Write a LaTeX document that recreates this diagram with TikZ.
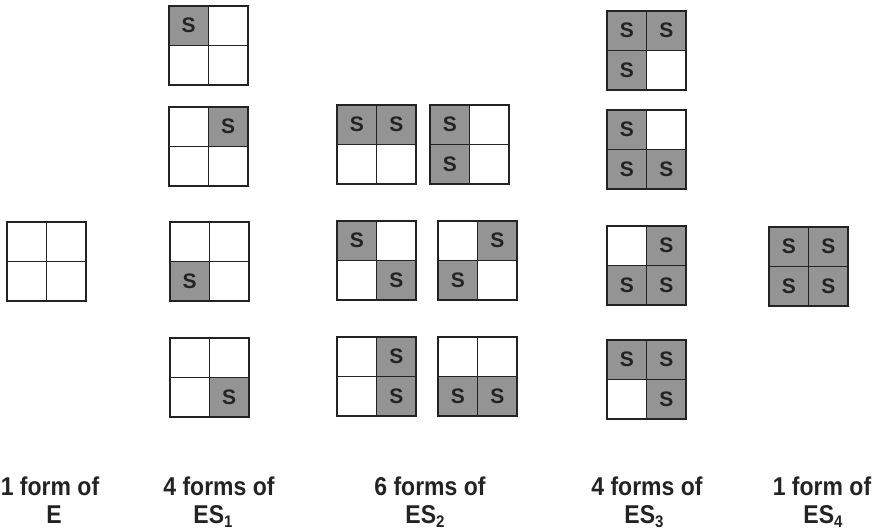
\documentclass[tikz,border=0pt]{standalone}
\usepackage{fontspec}
\setmainfont{Liberation Sans}
\definecolor{cellgray}{RGB}{148,148,148}
\definecolor{inkc}{RGB}{35,35,35}
\newcommand\sub[1]{\raisebox{-0.35ex}{\fontsize{15}{15}\selectfont #1}}
\newcommand\cellnode[4]{%
  \ifnum#4=1
    \node[fullcell] (#1) at (#2,#3) {S};
  \else
    \node[emptycell] (#1) at (#2,#3) {};
  \fi}
\newcommand\sgrid[7]{%
  \cellnode{#1tl}{{#2+19.75}}{{#3+19.75}}{#4}
  \cellnode{#1tr}{{#2+59.25}}{{#3+19.75}}{#5}
  \cellnode{#1bl}{{#2+19.75}}{{#3+59.25}}{#6}
  \cellnode{#1br}{{#2+59.25}}{{#3+59.25}}{#7}
  \draw[gridline] (#1tl.north west) rectangle (#1br.south east);}
\begin{document}
\begin{tikzpicture}[x=1pt,y=-1pt,
  basecell/.style={rectangle, minimum size=39.5pt, inner sep=0pt, outer sep=0pt,
    draw=inkc, line width=1.4pt, font=\fontsize{21}{21}\selectfont\bfseries, text=inkc},
  fullcell/.style={basecell, fill=cellgray},
  emptycell/.style={basecell, fill=white},
  gridline/.style={draw=inkc, line width=1.6pt},
  lab/.style={anchor=base, inner sep=0pt, text=inkc, yscale=1.12,
    font=\fontsize{23}{23}\selectfont\bfseries}]
\useasboundingbox (0,0) rectangle (878,530);
% E
\sgrid{e}{7}{222}{0}{0}{0}{0}
% ES1
\sgrid{sa}{169}{6}{1}{0}{0}{0}
\sgrid{sb}{169}{107}{0}{1}{0}{0}
\sgrid{sc}{170}{222}{0}{0}{1}{0}
\sgrid{sd}{170}{338}{0}{0}{0}{1}
% ES2
\sgrid{ta}{337}{105}{1}{1}{0}{0}
\sgrid{tb}{430}{105}{1}{0}{1}{0}
\sgrid{tc}{337}{221}{1}{0}{0}{1}
\sgrid{td}{438}{221}{0}{1}{1}{0}
\sgrid{te}{337}{337}{0}{1}{0}{1}
\sgrid{tf}{438}{337}{0}{0}{1}{1}
% ES3
\sgrid{ua}{607}{11}{1}{1}{1}{0}
\sgrid{ub}{607}{110}{1}{0}{1}{1}
\sgrid{uc}{607}{226}{0}{1}{1}{1}
\sgrid{ud}{607}{340}{1}{1}{0}{1}
% ES4
\sgrid{va}{769}{227}{1}{1}{1}{1}
% labels
\node[lab] (l1a) at (50,495) {1 form of};
\node[lab] (l1b) at (54,523) {E};
\node[lab] (l2a) at (219,495) {4 forms of};
\node[lab] (l2b) at (213,523) {ES\sub{1}};
\node[lab] (l3a) at (430,495) {6 forms of};
\node[lab] (l3b) at (425,523) {ES\sub{2}};
\node[lab] (l4a) at (647,495) {4 forms of};
\node[lab] (l4b) at (644,523) {ES\sub{3}};
\node[lab] (l5a) at (822,495) {1 form of};
\node[lab] (l5b) at (823,523) {ES\sub{4}};
\end{tikzpicture}
\end{document}
